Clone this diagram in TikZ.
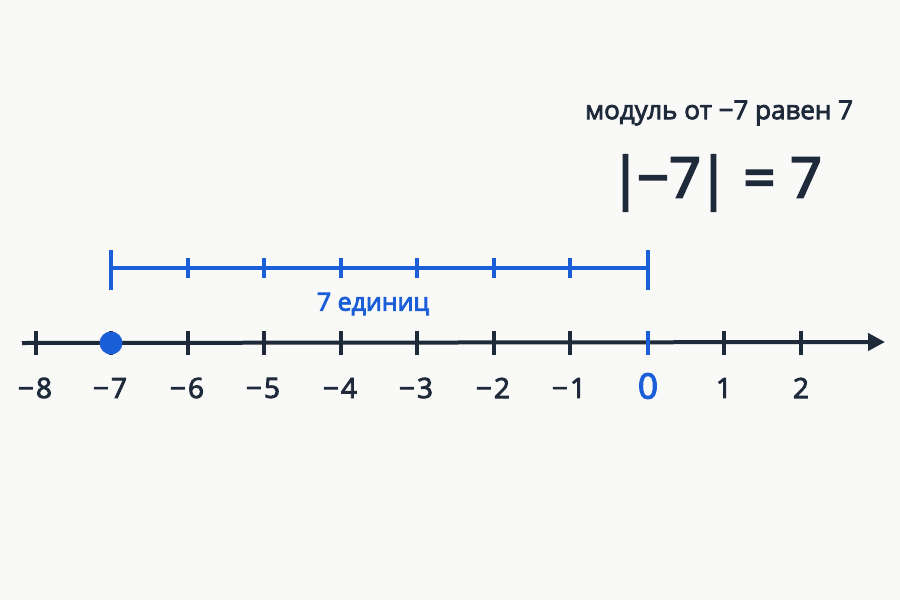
\documentclass[tikz,border=0pt]{standalone}
\usepackage{fontspec}
\setmainfont{Open Sans}
\newfontfamily\medf[FakeBold=3]{Open Sans}
\newfontfamily\semf[FakeBold=3.5]{Open Sans}
\usetikzlibrary{arrows.meta}
\definecolor{ink}{HTML}{1E2939}
\definecolor{blu}{HTML}{1A5FD8}
\definecolor{bg}{HTML}{F9F9F8}
\begin{document}
\begin{tikzpicture}[x=1pt,y=-1pt,
  axis/.style={ink,line width=4pt},
  tk/.style={ink,line width=3.2pt},
  btk/.style={blu,line width=3.2pt},
  lbl/.style={ink,font=\medf\fontsize{28}{28}\selectfont,inner sep=0pt}]
\fill[bg] (0,0) rectangle (900,600);
\useasboundingbox (0,0) rectangle (900,600);
% axis
\coordinate (L) at (22,343);
\coordinate (R) at (885,342);
\draw[axis,-{Triangle[length=17pt,width=17pt]}] (L) -- (R);
% ticks and labels
\foreach \x in {36,111,188,264,341,417,494,570,724,801}{
  \draw[tk] (\x,331) -- (\x,355);
}
\foreach \n/\x in {8/36,7/111,6/188,5/264,4/341,3/417,2/494,1/570}{
  \node[lbl] (n\n) at (\x-1,388) {−\kern2pt\n};
}
\node[lbl] (p1) at (724,388) {1};
\node[lbl] (p2) at (801,388) {2};
\draw[btk] (648,331) -- (648,355);
\node[blu,font=\semf\fontsize{35}{35}\selectfont,inner sep=0pt] (zero) at (648,386) {0};
% point
\node[circle,fill=blu,minimum size=23pt,inner sep=0pt] (pt) at (111,343) {};
% bracket
\coordinate (bl) at (111,268);
\coordinate (br) at (648,268);
\draw[blu,line width=3.8pt] (bl) -- (br);
\draw[btk] (111,250) -- (111,290);
\draw[btk] (648,250) -- (648,290);
\foreach \x in {188,264,341,417,494,570}{
  \draw[btk] (\x,258) -- (\x,278);
}
\node[blu,font=\semf\fontsize{25}{25}\selectfont,inner sep=0pt] (units) at (373,304) {7 единиц};
% top text
\node[ink,font=\medf\fontsize{26}{26}\selectfont,inner sep=0pt] (cap) at (719,113) {модуль от −7 равен 7};
\node[ink,font=\semf\fontsize{56}{56}\selectfont,inner sep=0pt] (eq) at (716,183) {|\kern-4pt−7\kern-3pt| = 7};
\end{tikzpicture}
\end{document}
